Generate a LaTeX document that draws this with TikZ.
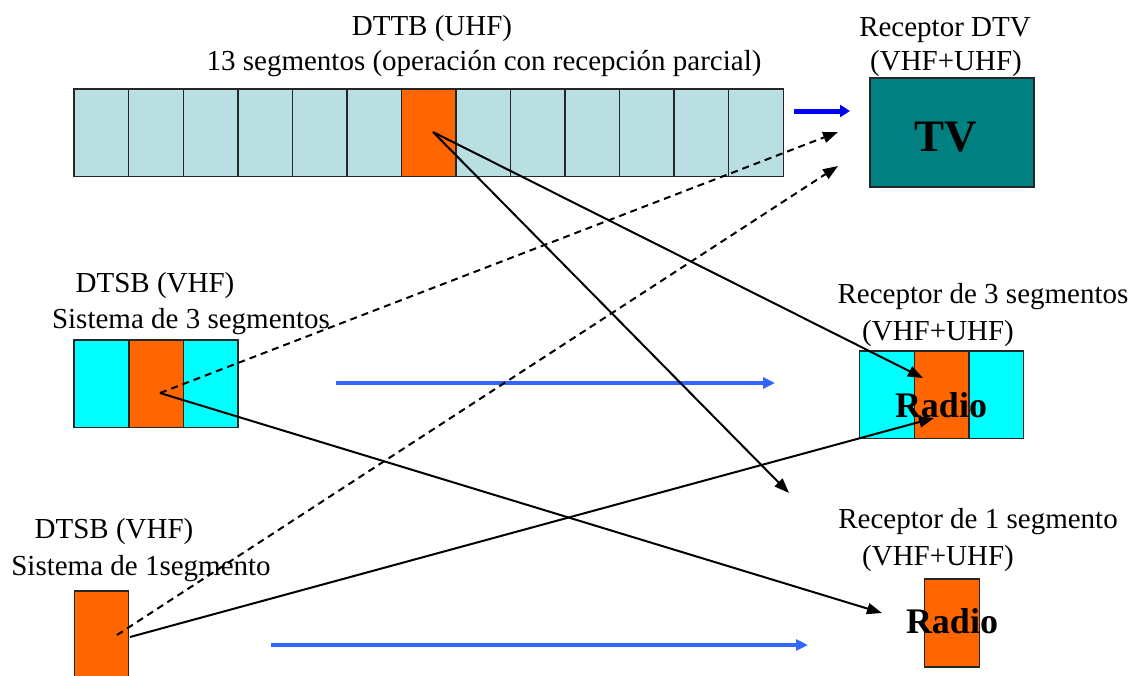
\documentclass[tikz,border=0pt]{standalone}
\usepackage{fontspec}
\setmainfont{Liberation Serif}
\usetikzlibrary{arrows.meta}
\definecolor{segpale}{HTML}{B9DFE2}
\definecolor{segorange}{HTML}{FF6600}
\definecolor{segcyan}{HTML}{00FFFF}
\definecolor{tvteal}{HTML}{008080}
\definecolor{feedblue}{HTML}{0000FF}
\definecolor{linkblue}{HTML}{3366FF}
\tikzset{
  seg/.style={inner sep=0pt, minimum width=54.54pt, minimum height=87pt},
  edge/.style={draw=black!85, line width=1.4pt},
  lbl/.style={font=\fontsize{29}{33}\selectfont, anchor=base, inner sep=0pt},
  big/.style={font=\fontsize{#1}{#1}\bfseries\selectfont, anchor=base, inner sep=0pt},
  link/.style={line width=2pt, -{Triangle[length=15pt,width=11pt]}},
  dlink/.style={link, dash pattern=on 7pt off 5pt},
  feed/.style={line width=4pt, color=linkblue, -{Triangle[length=12pt,width=11pt]}}
}
\begin{document}
\begin{tikzpicture}[x=1pt,y=-1pt]
\useasboundingbox (0,0) rectangle (1139,675);
\clip (0,0) rectangle (1139,675);

% 13-segment UHF band (segment 7 carries partial reception)
\foreach \i in {1,...,13}{
  \ifnum\i=7
    \node[seg, fill=segorange] (t\i) at ({74+(\i-0.5)*54.54},132.5) {};
  \else
    \node[seg, fill=segpale] (t\i) at ({74+(\i-0.5)*54.54},132.5) {};
  \fi
}
\draw[edge] (t1.north west) rectangle (t13.south east);
\foreach \i in {1,...,12}{ \draw[edge] (t\i.north east) -- (t\i.south east); }
\node[lbl] (ttl1) at (432,35) {DTTB (UHF)};
\node[lbl] (ttl2) at (484,70) {13 segmentos (operación con recepción parcial)};

% DTV receiver
\node[edge, fill=tvteal, minimum width=164pt,
  minimum height=109pt, inner sep=0pt] (tv) at (952,132.5) {};
\node[big=45] (tvtxt) at (946,151) {TV};
\node[lbl] (rdtv1) at (945,36) {Receptor DTV};
\node[lbl] (rdtv2) at (946,70) {(VHF+UHF)};

% 3-segment VHF transmitter
\node[seg, fill=segcyan]   (a1) at (101.5,383.5) {};
\node[seg, fill=segorange] (a2) at (156,383.5) {};
\node[seg, fill=segcyan]   (a3) at (210.5,383.5) {};
\draw[edge] (a1.north west) rectangle (a3.south east)
  (a1.north east) -- (a1.south east) (a2.north east) -- (a2.south east);
\node[lbl] (a3t1) at (155,292) {DTSB (VHF)};
\node[lbl] (a3t2) at (191,328) {Sistema de 3 segmentos};

% 1-segment VHF transmitter
\node[seg, edge, fill=segorange, minimum height=90pt] (b1) at (101.5,636) {};
\node[lbl] (b1t1) at (114,538) {DTSB (VHF)};
\node[lbl] (b1t2) at (141,575) {Sistema de 1segmento};

% 3-segment receiver
\node[seg, fill=segcyan]   (r1) at (887,394.5) {};
\node[seg, fill=segorange] (r2) at (941.5,394.5) {};
\node[seg, fill=segcyan]   (r3) at (996,394.5) {};
\draw[edge] (r1.north west) rectangle (r3.south east)
  (r1.north east) -- (r1.south east) (r2.north east) -- (r2.south east);
\node[lbl] (r3t1) at (983,303) {Receptor de 3 segmentos};
\node[lbl] (r3t2) at (938,340) {(VHF+UHF)};

% 1-segment receiver
\node[seg, edge, fill=segorange, minimum height=88pt] (q1) at (952,623) {};
\node[lbl] (q1t1) at (978,528) {Receptor de 1 segmento};
\node[lbl] (q1t2) at (938,565) {(VHF+UHF)};

% signal feeds
\coordinate (fa) at (794,111);  \coordinate (fb) at (850,111);
\coordinate (ga) at (336,383);  \coordinate (gb) at (775,383);
\coordinate (ha) at (271,645);  \coordinate (hb) at (808,645);
\draw[feed, color=feedblue, line width=5pt,
  -{Triangle[length=10pt,width=12pt]}] (fa) -- (fb);
\draw[feed] (ga) -- (gb);
\draw[feed] (ha) -- (hb);

% reception links
\coordinate (s7) at (433,132);
\coordinate (sa) at (160,393);
\coordinate (sb) at (117,635);
\coordinate (sc) at (130,637);
\coordinate (e1) at (923,378);
\coordinate (e2) at (789,493);
\coordinate (e3) at (882,613);
\coordinate (e4) at (934,418);
\coordinate (e5) at (838,132);
\coordinate (e6) at (838,166);

\draw[link] (s7) -- (e1);
\draw[link] (s7) -- (e2);
\draw[link] (sa) -- (e3);
\draw[link] (sc) -- (e4);
\draw[dlink] (sa) -- (e5);
\draw[dlink] (sb) -- (e6);

% receiver captions on top
\node[big=36] (rad3) at (941,417) {Radio};
\node[big=36] (rad1) at (952,633) {Radio};
\end{tikzpicture}
\end{document}
